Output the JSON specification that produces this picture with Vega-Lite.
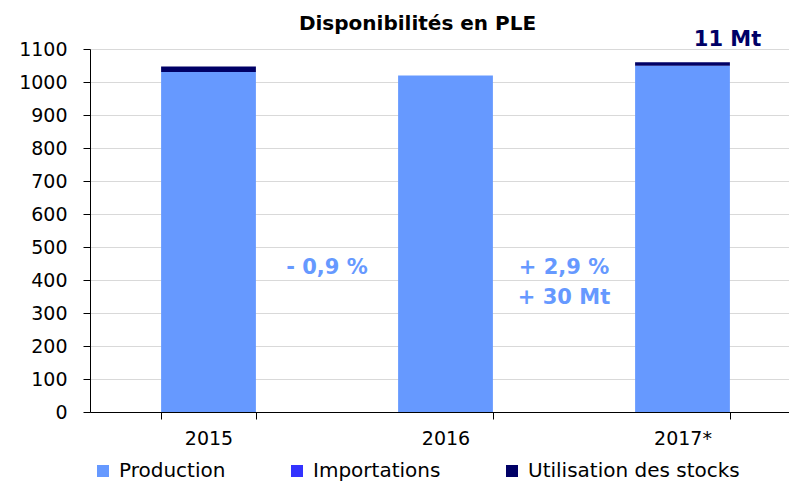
{
  "$schema": "https://vega.github.io/schema/vega-lite/v6.json",
  "width": 699,
  "height": 363,
  "autosize": "none",
  "padding": {"left": 90, "top": 49, "right": 0, "bottom": 73},
  "background": "white",
  "config": {
    "font": "DejaVu Sans",
    "view": {"stroke": null},
    "axis": {"labelColor": "black", "labelFontSize": 19, "domainColor": "black", "tickColor": "black", "tickSize": 7, "title": null, "labelOverlap": false}
  },
  "title": {"text": "Disponibilités en PLE", "fontSize": 20, "fontWeight": "bold", "color": "black", "dx": -22, "offset": 6, "dy": 11},
  "encoding": {
    "x": {"field": "year", "type": "nominal", "sort": ["2015", "2016", "2017*"],
      "scale": {"domain": ["2015", "2016", "2017*"], "range": [0, 711], "paddingInner": 0.6, "paddingOuter": 0.3},
      "axis": {"tickBand": "extent", "labelAngle": 0, "labelPadding": 10, "grid": false}},
    "y": {"field": "value", "type": "quantitative",
      "scale": {"domain": [0, 1100], "nice": false},
      "axis": {"values": [0, 100, 200, 300, 400, 500, 600, 700, 800, 900, 1000, 1100], "format": "d", "grid": true, "gridColor": "#D9D9D9", "labelPadding": 16}}
  },
  "layer": [
    {
      "data": {"values": [
        {"year": "2015", "type": "Production", "value": 1030},
        {"year": "2015", "type": "Importations", "value": 0},
        {"year": "2015", "type": "Utilisation des stocks", "value": 17},
        {"year": "2016", "type": "Production", "value": 1020},
        {"year": "2016", "type": "Importations", "value": 0},
        {"year": "2016", "type": "Utilisation des stocks", "value": 0},
        {"year": "2017*", "type": "Production", "value": 1049},
        {"year": "2017*", "type": "Importations", "value": 0},
        {"year": "2017*", "type": "Utilisation des stocks", "value": 11}
      ]},
      "mark": {"type": "bar"},
      "encoding": {
        "y": {"field": "value", "type": "quantitative", "stack": "zero"},
        "color": {"field": "type", "type": "nominal", "sort": ["Production", "Importations", "Utilisation des stocks"],
          "scale": {"domain": ["Production", "Importations", "Utilisation des stocks"], "range": ["#6699FF", "#3333FF", "#000066"]},
          "legend": {"orient": "none", "direction": "horizontal", "title": null, "legendX": 3, "legendY": 412, "padding": 0,
            "symbolType": "square", "symbolSize": 144, "symbolStrokeWidth": 0, "labelFontSize": 20, "labelColor": "black",
            "labelOffset": 6, "columnPadding": 61, "labelLimit": 400}},
        "order": {"field": "type", "sort": "ascending"}
      }
    },
    {
      "data": {"values": [
        {"year": "2016", "value": 437, "label": "- 0,9 %"},
        {"year": "2017*", "value": 437, "label": "+ 2,9 %"},
        {"year": "2017*", "value": 346, "label": "+ 30 Mt"}
      ]},
      "mark": {"type": "text", "dx": -118.5, "fontSize": 21, "fontWeight": "bold", "color": "#6699FF", "baseline": "middle", "align": "center"},
      "encoding": {
        "text": {"field": "label"}
      }
    },
    {
      "data": {"values": [
        {"year": "2017*", "value": 1127, "label": "11 Mt"}
      ]},
      "mark": {"type": "text", "dx": 45, "fontSize": 21, "fontWeight": "bold", "color": "#000066", "baseline": "middle", "align": "center"},
      "encoding": {
        "text": {"field": "label"}
      }
    }
  ]
}
